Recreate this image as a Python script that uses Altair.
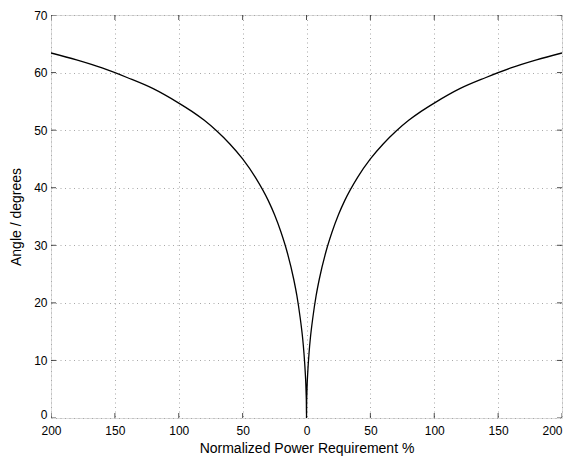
import altair as alt
import pandas as pd

# Readings (one branch; the curve is mirrored about 0)
power = [0, 0.1, 0.25, 0.5, 1, 2, 3, 5, 7.5, 10, 15, 20, 25, 30, 40, 50,
         60, 70, 80, 90, 100, 120, 140, 160, 180, 200]
angle = [0, 2.6, 4.0, 5.7, 8.0, 11.3, 13.8, 17.5, 21.2, 24.1, 28.7, 32.3,
         35.3, 37.8, 41.8, 45.0, 47.6, 49.8, 51.7, 53.3, 54.7, 57.2, 59.1,
         60.8, 62.2, 63.4]

x_ticks = [-200, -150, -100, -50, 0, 50, 100, 150, 200]
y_ticks = [0, 10, 20, 30, 40, 50, 60, 70]
x_domain = [-200, 200]
y_domain = [0, 70]

xs = [-p for p in reversed(power[1:])] + power
ys = list(reversed(angle[1:])) + angle
df = pd.DataFrame({"x": xs, "y": ys, "order": list(range(len(xs)))})

FONT = "Liberation Sans"

xscale = alt.Scale(domain=x_domain, nice=False, zero=False)
yscale = alt.Scale(domain=y_domain, nice=False, zero=False)

xaxis = alt.Axis(values=x_ticks, labelExpr="abs(datum.value)", grid=True,
                 gridColor="#a8a8a8", gridDash=[1, 3.5], gridWidth=1,
                 tickSize=0, domain=False, labelPadding=7, labelFontSize=12,
                 labelColor="black", labelFont=FONT, labelFlush=False,
                 labelOverlap=False,
                 labelAlign={"condition": {"test": f"datum.value >= {x_domain[1]}",
                                           "value": "right"},
                             "value": "center"},
                 title="Normalized Power Requirement %", titleFont=FONT,
                 titleFontSize=14, titleFontWeight="normal", titleColor="black",
                 titlePadding=5)
yaxis = alt.Axis(values=y_ticks, grid=True, gridColor="#a8a8a8", gridDash=[1, 3.5],
                 gridWidth=1, tickSize=0, domain=False, labelPadding=4,
                 labelFontSize=12, labelColor="black", labelFont=FONT,
                 labelFlush=False, labelOverlap=False,
                 labelBaseline={"condition": {"test": f"datum.value <= {y_domain[0]}",
                                              "value": "alphabetic"},
                                "value": "middle"},
                 title="Angle / degrees", titleFont=FONT, titleFontSize=14,
                 titleFontWeight="normal", titleColor="black", titlePadding=10)

line = alt.Chart(df).mark_line(color="black", strokeWidth=1.3, clip=True,
                               interpolate="monotone").encode(
    x=alt.X("x:Q", scale=xscale, axis=xaxis),
    y=alt.Y("y:Q", scale=yscale, axis=yaxis),
    order="order:Q",
)

# inward ticks on all four sides (half of each tick is clipped away)
xt = pd.DataFrame({"t": x_ticks, "lo": y_domain[0], "hi": y_domain[1]})
yt = pd.DataFrame({"t": y_ticks, "lo": x_domain[0], "hi": x_domain[1]})
tick_style = dict(size=10, color="black", thickness=1, clip=True)
bottom = alt.Chart(xt).mark_tick(orient="vertical", **tick_style).encode(
    x=alt.X("t:Q", scale=xscale), y=alt.Y("lo:Q", scale=yscale))
top = alt.Chart(xt).mark_tick(orient="vertical", **tick_style).encode(
    x=alt.X("t:Q", scale=xscale), y=alt.Y("hi:Q", scale=yscale))
left = alt.Chart(yt).mark_tick(orient="horizontal", **tick_style).encode(
    y=alt.Y("t:Q", scale=yscale), x=alt.X("lo:Q", scale=xscale))
right = alt.Chart(yt).mark_tick(orient="horizontal", **tick_style).encode(
    y=alt.Y("t:Q", scale=yscale), x=alt.X("hi:Q", scale=xscale))

chart = alt.layer(line, bottom, top, left, right).properties(
    width=511, height=403,
    autosize=alt.AutoSizeParams(type="none"),
    padding={"left": 43, "top": 7, "right": 3, "bottom": 38},
).configure_view(stroke="black", strokeWidth=1.2).configure(background="white")

chart.save("out.html", embed_options={"renderer": "svg", "actions": False})
